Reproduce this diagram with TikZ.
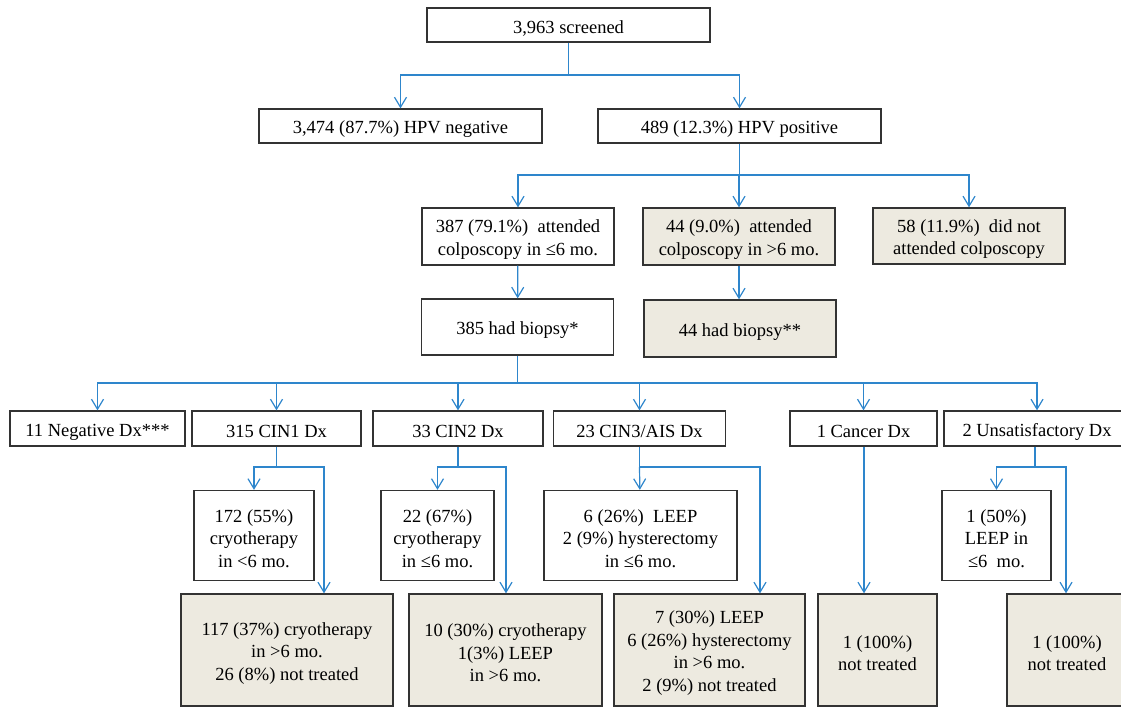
\documentclass[tikz,border=0pt]{standalone}
\usepackage{fontspec}
\setmainfont{Liberation Serif}
\usepackage{tikz}
\usetikzlibrary{arrows.meta}
\definecolor{lineblue}{RGB}{46,134,204}
\definecolor{boxtan}{RGB}{237,234,224}
\newcommand\tallrow{\rule{0pt}{19pt}}
\tikzset{
  box/.style={draw=black!80, line width=1.3pt, fill=white, inner sep=0pt, align=center,
    font=\fontsize{18.5}{22.5}\selectfont,
    execute at begin node={\tallrow}},
  tanbox/.style={box, fill=boxtan},
  wh/.style 2 args={minimum width=#1pt, minimum height=#2pt},
  conn/.style={draw=lineblue, line width=1.2pt},
  arr/.style={conn, -{Straight Barb[length=10pt,width=12pt]}}
}

\begin{document}
\begin{tikzpicture}[x=1pt,y=-1pt]
\useasboundingbox (0,0) rectangle (1121,708);
\clip (0,0) rectangle (1121,708);
% screening and HPV result
\node [box, wh={283}{34}] (scr) at (568.5,25) {3,963 screened};
\node [box, wh={283}{34}] (neg) at (400.5,126) {3,474 (87.7\%) HPV negative};
\node [box, wh={283}{34}] (pos) at (739.5,126) {489 (12.3\%) HPV positive};
% colposcopy
\node [box, wh={192}{57}] (att) at (518,236.5) {\tallrow 387 (79.1\%)~ attended\\colposcopy in ≤6 mo.};
\node [tanbox, wh={192}{57}] (late) at (739,236.5) {\tallrow 44 (9.0\%)~ attended\\colposcopy in >6 mo.};
\node [tanbox, wh={192}{56}] (none) at (969,236) {\tallrow 58 (11.9\%)~ did not\\attended colposcopy};
\node [box, wh={192}{56}] (bx) at (517.5,327) {385 had biopsy*};
\node [tanbox, wh={192}{57}] (bxl) at (740,328.5) {44 had biopsy**};
% diagnoses
\node [box, wh={175}{35}] (dneg) at (97.5,428.5) {11 Negative Dx***};
\node [box, wh={169}{35}] (cin1) at (276.5,428.5) {315 CIN1 Dx};
\node [box, wh={170}{35}] (cin2) at (458,428.5) {33 CIN2 Dx};
\node [box, wh={172}{35}] (cin3) at (639.5,428.5) {23 CIN3/AIS Dx};
\node [box, wh={147}{35}] (canc) at (863.5,428.5) {1 Cancer Dx};
\node [box, wh={186}{35}] (unsat) at (1037,428.5) {2 Unsatisfactory Dx};
% treatment in <=6 mo.
\node [box, wh={120}{90}] (t1) at (254,535.5) {\tallrow 172 (55\%)\\cryotherapy\\in <6 mo.};
\node [box, wh={113}{90}] (t2) at (437.5,535.5) {\tallrow 22 (67\%)\\cryotherapy\\in ≤6 mo.};
\node [box, wh={193}{90}] (t3) at (640.5,535.5) {\tallrow 6 (26\%)~ LEEP\\2 (9\%) hysterectomy\\in ≤6 mo.};
\node [box, wh={109}{90}] (t5) at (996.5,535.5) {\tallrow 1 (50\%)\\LEEP in\\≤6~ mo.};
% later or no treatment
\node [tanbox, wh={212}{112}] (l1) at (287,650) {\tallrow 117 (37\%) cryotherapy\\in >6 mo.\\26 (8\%) not treated};
\node [tanbox, wh={193}{112}] (l2) at (505.5,650) {\tallrow 10 (30\%) cryotherapy\\1(3\%) LEEP\\in >6 mo.};
\node [tanbox, wh={191}{112}] (l3) at (709.5,650) {\tallrow 7 (30\%) LEEP\\6 (26\%) hysterectomy\\in >6 mo.\\2 (9\%) not treated};
\node [tanbox, wh={119}{112}] (l4) at (877.5,650) {\tallrow 1 (100\%)\\not treated};
\node [tanbox, wh={120}{112}] (l5) at (1067,650) {\tallrow 1 (100\%)\\not treated};

% connectors
\coordinate (j1) at (568.5,75);
\coordinate (j2) at (739.5,175);
\coordinate (j3) at (517.5,383);
\draw [conn] (scr) -- (j1);
\draw [arr] (j1) -| (neg);
\draw [arr] (j1) -| (pos);
\draw [conn] (pos) -- (j2);
\foreach \n in {att,late,none}
  \draw [arr] (j2) -| (\n);
\draw [arr] (att) -- (bx);
\draw [arr] (late.south) -- (late.south |- bxl.north);
\draw [conn] (bx) -- (j3);
\foreach \n in {dneg,cin1,cin2,cin3,canc,unsat}
  \draw [arr] (j3) -| (\n);
% branches below the diagnoses
\draw [conn] (cin1.south) -- (cin1.south |- 0,467) coordinate (k1);
\draw [arr] (k1) -| (t1);
\draw [arr] (k1) -| (l1.north -| 324,0);
\draw [conn] (cin2.south) -- (cin2.south |- 0,467) coordinate (k2);
\draw [arr] (k2) -| (t2);
\draw [arr] (k2) -| (l2.north -| 506,0);
\draw [conn] (cin3.south) -- (cin3.south |- 0,467) coordinate (k3);
\draw [arr] (k3) -- (t3);
\draw [arr] (k3) -| (l3.north -| 760,0);
\draw [arr] (canc.south -| 864,0) -- (l4.north -| 864,0);
\draw [conn] (unsat.south -| 1035,0) -- (1035,467) coordinate (k5);
\draw [arr] (k5) -| (t5);
\draw [arr] (k5) -| (l5.north -| 1066,0);
\end{tikzpicture}
\end{document}
